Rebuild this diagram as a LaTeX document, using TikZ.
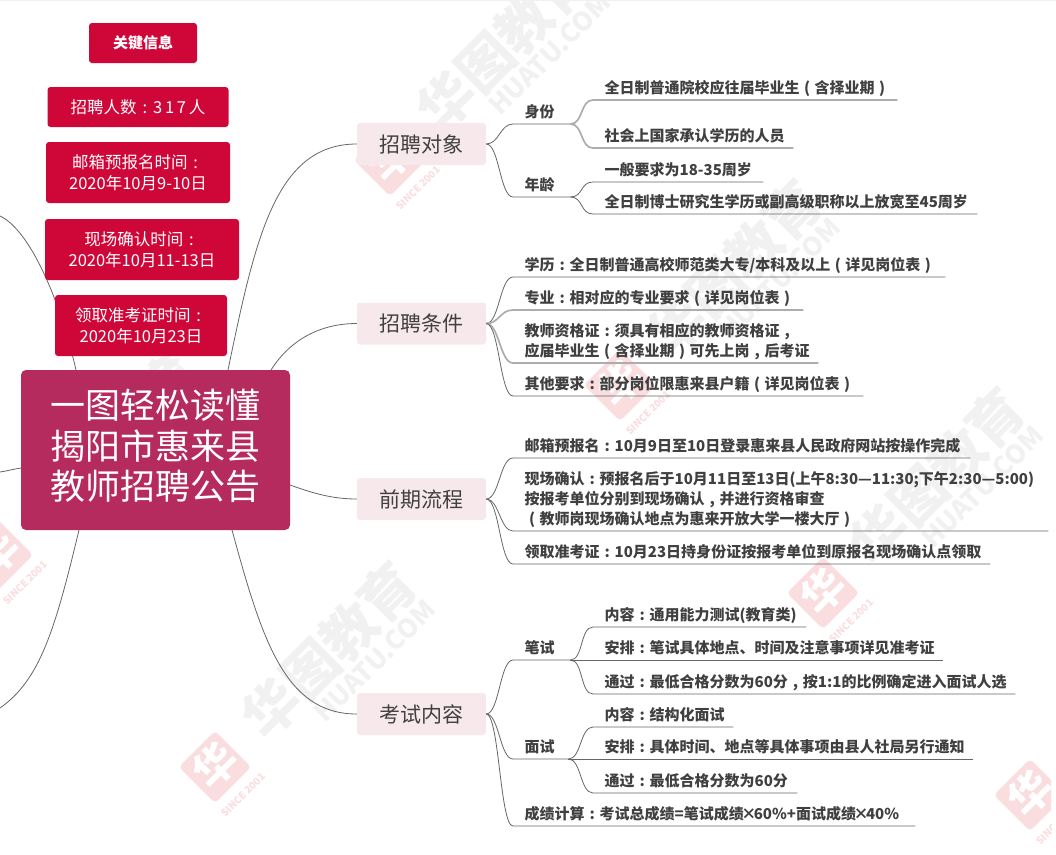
\documentclass[tikz,border=0pt]{standalone}
\usepackage{fontspec}
\setmainfont{Noto Sans CJK SC}
\newcommand\fm{\makebox[1em]{:}}
\newcommand\fl{\makebox[1em]{(}}
\newcommand\fr{\makebox[1em]{)}}
\newcommand\fc{\makebox[1em]{,}}
\newcommand\ft{\makebox[10pt]{×}}
\definecolor{crim}{HTML}{CF0638}
\definecolor{rose}{HTML}{B62B5D}
\definecolor{pale}{HTML}{F7E8EB}
\definecolor{ink}{HTML}{404040}
\definecolor{wmgray}{HTML}{F1F1F1}
\definecolor{wmred}{HTML}{F9DDDF}
\tikzset{
  x=1pt,y=-1pt,
  conn/.style={draw=black!60,line width=0.8pt},
  heavy/.style={draw=black!32,line width=1.7pt},
  infobox/.style={fill=crim,rounded corners=3pt,text=white,align=center,inner sep=0pt,
    font=\fontsize{16.5}{21}\selectfont},
  topic/.style={fill=pale,rounded corners=3pt,inner sep=0pt,minimum width=129pt,minimum height=42pt,
    text=ink,font=\fontsize{21}{24}\selectfont},
  leaf/.style={inner sep=0pt,anchor=south west,text=ink,
    font=\fontsize{15}{20}\selectfont\bfseries,
    execute at begin node={\parindent=0pt\leftskip=11.5pt\rightskip=-100pt\relax}},
}
% \leafnode[depth below the first baseline]{name}{x0}{x1}{yline}{text}
\newcommand\leafnode[6][6.3]{%
  \pgfmathsetmacro\leafw{#4-#3}%
  \node[leaf,text width=\leafw pt,text depth=#1pt] (#2) at (#3,#5) {#6};}
% connector from a hub through a curve and along the rule under the leaf
\newcommand\twig[3][conn]{%
  \draw[#1] (#2) .. controls +(13,0) and +(-13,0) .. (#3.south west) -- (#3.south east);}
\newcommand\wm[2]{%
  \begin{scope}[shift={(#1,#2)}]
    \node[fill=wmred,rounded corners=4pt,minimum size=51pt,inner sep=0pt,rotate=45] (wmlogo#1) at (0,0) {};
    \node[rotate=45,text=white,font=\fontsize{42}{42}\selectfont\bfseries] (wmmark#1) at (0,-2) {华};
    \node[rotate=45,text=wmgray,font=\fontsize{55}{55}\selectfont\bfseries] (wmname#1) at (114,-117) {华图教育};
    \node[rotate=45,text=wmgray,font=\fontsize{26}{26}\selectfont\bfseries] (wmsite#1) at (160,-106) {HUATU.COM};
    \node[rotate=45,text=wmred,font=\fontsize{10}{10}\selectfont\bfseries] (wmyear#1) at (28,28) {SINCE 2001};
  \end{scope}}
\begin{document}
\begin{tikzpicture}
\useasboundingbox (0,0) rectangle (1056,854);
\fill[black!6] (0,0) rectangle (1056,1);
% watermarks
\begin{scope}
  \clip (0,0) rectangle (1051,854);
  \wm{390}{160}
  \wm{620}{385}
  \wm{823}{593}
  \wm{215}{767}
  \wm{1030}{795}
  \wm{-3}{555}
\end{scope}

% centre and topics
\node[fill=rose,rounded corners=5pt,minimum width=269pt,minimum height=160pt,inner sep=0pt,
  text=white,align=center,font=\fontsize{35}{40.5}\selectfont] (title) at (155.5,450)
  {一图轻松读懂\\揭阳市惠来县\\教师招聘公告\rule[-11pt]{0pt}{11pt}};
\node[topic] (t1) at (421.5,144) {招聘对象};
\node[topic] (t2) at (421.5,323.5) {招聘条件};
\node[topic] (t3) at (421.5,499) {前期流程};
\node[topic] (t4) at (421.5,714) {考试内容};

% stubs leaving the picture on the left
\coordinate (offa) at (0,216);
\coordinate (offb) at (0,472);
\coordinate (offc) at (0,708);
\coordinate (ta) at (76,370);
\coordinate (tb) at (21,468);
\coordinate (tc) at (79,530);
\coordinate (td) at (228,370);
\coordinate (te) at (271,370);
\coordinate (tf) at (290,485);
\coordinate (tg) at (232,530);
\draw[conn] (ta) .. controls (60,300) and (30,230) .. (offa);
\draw[conn] (tb) .. controls (14,469) and (7,471) .. (offb);
\draw[conn] (tc) .. controls (55,630) and (40,680) .. (offc);
\draw[conn] (td) .. controls (255,240) and (275,144) .. (t1.west);
\draw[conn] (te) .. controls (290,340) and (320,323.5) .. (t2.west);
\draw[conn] (tf) .. controls (310,492) and (330,499) .. (t3.west);
\draw[conn] (tg) .. controls (262,640) and (285,714) .. (t4.west);

% key information
\node[infobox,minimum width=108pt,minimum height=40pt,font=\fontsize{15}{20}\selectfont\bfseries] (k0) at (143,43) {关键信息};
\node[infobox,minimum width=181pt,minimum height=40pt] (k1) at (138,107) {招聘人数\fm 3\,1\,7\,人};
\node[infobox,minimum width=184pt,minimum height=61pt] (k2) at (138,172.5) {邮箱预报名时间\fm\\2020年10月9-10日};
\node[infobox,minimum width=194pt,minimum height=61pt] (k3) at (142,249.5) {现场确认时间\fm\\2020年10月11-13日};
\node[infobox,minimum width=172pt,minimum height=61pt] (k4) at (141,325.5) {领取准考证时间\fm\\2020年10月23日};

% topic 1
\leafnode{a1}{513}{570}{124}{身份}
\leafnode{a2}{513}{570}{197}{年龄}
\leafnode{a11}{593}{897}{100}{全日制普通院校应往届毕业生\fl 含择业期\fr}
\leafnode{a12}{593}{793}{148}{社会上国家承认学历的人员}
\leafnode{a21}{593}{763}{182}{一般要求为18-35周岁}
\leafnode{a22}{593}{977}{214}{全日制博士研究生学历或副高级职称以上放宽至45周岁}
\twig{t1.east}{a1}
\twig{t1.east}{a2}
\twig[heavy]{a1.south east}{a11}
\twig[heavy]{a1.south east}{a12}
\twig{a2.south east}{a21}
\twig{a2.south east}{a22}

% topic 2
\leafnode{b1}{513}{945}{277}{学历\fm 全日制普通高校师范类大专/本科及以上\fl 详见岗位表\fr}
\leafnode{b2}{513}{803}{310}{专业\fm 相对应的专业要求\fl 详见岗位表\fr}
\leafnode[26.3]{b3}{513}{818}{363}{教师资格证\fm 须具有相应的教师资格证\fc\\应届毕业生\fl 含择业期\fr 可先上岗\fc 后考证}
\leafnode{b4}{513}{863}{396}{其他要求\fm 部分岗位限惠来县户籍\fl 详见岗位表\fr}
\twig{t2.east}{b1}
\twig[heavy]{t2.east}{b2}
\twig[heavy]{t2.east}{b3}
\twig{t2.east}{b4}

% topic 3
\leafnode{c1}{513}{970}{458}{邮箱预报名\fm 10月9日至10日登录惠来县人民政府网站按操作完成}
\leafnode[46.3]{c2}{513}{1048}{531}{现场确认\fm 预报名后于10月11日至13日(上午8:30—11:30;下午2:30—5:00)\\按报考单位分别到现场确认\fc 并进行资格审查\\\fl 教师岗现场确认地点为惠来开放大学一楼大厅\fr}
\leafnode{c3}{513}{990}{564}{领取准考证\fm 10月23日持身份证按报考单位到原报名现场确认点领取}
\twig{t3.east}{c1}
\twig{t3.east}{c2}
\twig{t3.east}{c3}

% topic 4
\leafnode{d1}{513}{570}{660}{笔试}
\leafnode{d2}{513}{568}{759}{面试}
\leafnode{d3}{513}{915}{826}{成绩计算\fm 考试总成绩=笔试成绩\ft 60\%+面试成绩\ft 40\%}
\leafnode{d11}{593}{806}{627}{内容\fm 通用能力测试(教育类)}
\leafnode{d12}{593}{943}{660}{安排\fm 笔试具体地点、时间及注意事项详见准考证}
\leafnode{d13}{593}{1015}{694}{通过\fm 最低合格分数为60分\fc 按1:1的比例确定进入面试人选}
\leafnode{d21}{593}{733}{727}{内容\fm 结构化面试}
\leafnode{d22}{593}{973}{759}{安排\fm 具体时间、地点等具体事项由县人社局另行通知}
\leafnode{d23}{593}{797}{793}{通过\fm 最低合格分数为60分}
\twig{t4.east}{d1}
\twig{t4.east}{d2}
\twig{t4.east}{d3}
\twig{d1.south east}{d11}
\twig{d1.south east}{d12}
\twig{d1.south east}{d13}
\twig{d2.south east}{d21}
\twig{d2.south east}{d22}
\twig{d2.south east}{d23}
\end{tikzpicture}
\end{document}
